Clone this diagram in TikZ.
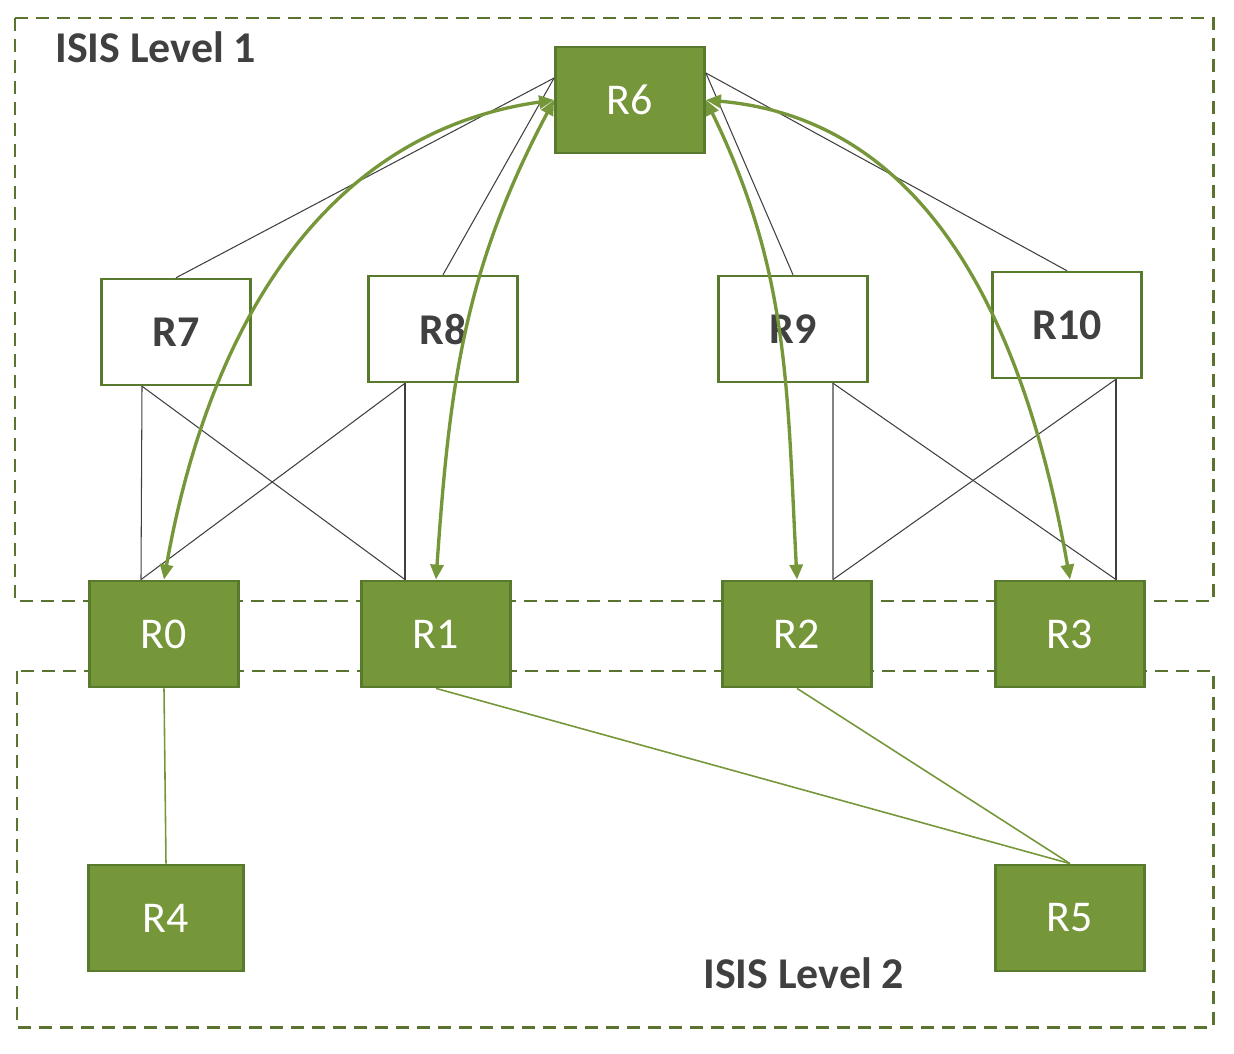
\documentclass[tikz,border=0pt]{standalone}
\usepackage{fontspec}
\setmainfont{Carlito}
\usepackage{tikz}
\usetikzlibrary{arrows.meta,positioning}
\definecolor{rtrgreen}{HTML}{76963A}
\definecolor{rtredge}{HTML}{587A2C}
\definecolor{dashgreen}{HTML}{5A7430}
\definecolor{txtgray}{HTML}{404040}

\begin{document}
\begin{tikzpicture}[>={Triangle[length=0.3cm,width=0.26cm]},
  grnbox/.style={draw=rtredge, fill=rtrgreen, line width=1.6pt, minimum width=2.98cm,
                 minimum height=2.12cm, text=white, font=\fontsize{25}{30}\selectfont},
  whtbox/.style={draw=rtredge, fill=white, line width=1.4pt, minimum width=2.98cm,
                 minimum height=2.12cm, text=txtgray, font=\fontsize{25}{30}\selectfont\bfseries},
  area/.style={draw=dashgreen, line width=1.7pt, dash pattern=on 0.26cm off 0.16cm},
  title/.style={text=txtgray, font=\fontsize{25}{30}\selectfont\bfseries,
                anchor=base west, inner sep=0pt},
  wire/.style={draw=txtgray, line width=0.6pt},
  l2wire/.style={draw=rtrgreen, line width=0.9pt},
  flow/.style={<->, draw=rtrgreen, line width=1.9pt}]
  \useasboundingbox (0,0) rectangle (24.68,-21.08);
  % areas
  \draw[area] (0.30,-0.36) rectangle (24.26,-12.02);
  \draw[area] (0.34,-13.42) rectangle (24.26,-20.54);
  \node[title] (t1) at (1.10,-1.26) {ISIS Level 1};
  \node[title] (t2) at (14.06,-19.76) {ISIS Level 2};
  % level 1 routers
  \node[grnbox] (R6)  at (12.60,-2.00) {R6};
  \node[whtbox] (R7)  at (3.52,-6.64)  {R7};
  \node[whtbox] (R8)  at (8.86,-6.58)  {R8};
  \node[whtbox] (R9)  at (15.86,-6.58) {R9};
  \node[whtbox] (R10) at (21.34,-6.50) {R10};
  % level 1/2 routers
  \foreach \name/\x in {R0/3.28, R1/8.72, R2/15.94, R3/21.40}
    \node[grnbox] (\name) at (\x,-12.68) {\name};
  % level 2 routers
  \node[grnbox, minimum width=3.1cm] (R4) at (3.32,-18.36) {R4};
  \node[grnbox] (R5) at (21.40,-18.36) {R5};
  % links to R6
  \draw[wire] ([yshift=0.44cm]R6.west) -- (R7.north);
  \draw[wire] ([yshift=0.44cm]R6.west) -- (R8.north);
  \draw[wire] ([yshift=0.54cm]R6.east) -- (R9.north);
  \draw[wire] ([yshift=0.54cm]R6.east) -- (R10.north);
  % links down to R0..R3
  \draw[wire] ([xshift=-0.68cm]R7.south) -- ([xshift=-0.46cm]R0.north);
  \draw[wire] ([xshift=-0.68cm]R7.south) -- ([xshift=-0.62cm]R1.north);
  \draw[wire] ([xshift=-0.76cm]R8.south) -- ([xshift=-0.46cm]R0.north);
  \draw[wire] ([xshift=-0.76cm]R8.south) -- ([xshift=-0.62cm]R1.north);
  \draw[wire] ([xshift=0.80cm]R9.south)  -- ([xshift=0.72cm]R2.north);
  \draw[wire] ([xshift=0.80cm]R9.south)  -- ([xshift=0.92cm]R3.north);
  \draw[wire] ([xshift=0.98cm]R10.south) -- ([xshift=0.72cm]R2.north);
  \draw[wire] ([xshift=0.98cm]R10.south) -- ([xshift=0.92cm]R3.north);
  % level 2 links
  \draw[l2wire] (R0.south) -- (R4.north);
  \draw[l2wire] (R1.south) -- (R5.north);
  \draw[l2wire] (R2.south) -- (R5.north);
  % adjacencies
  \draw[flow] (R0.north) to[out=80, in=188] (R6.west);
  \draw[flow] (R1.north) to[out=86, in=242] (R6.west);
  \draw[flow] (R2.north) to[out=93, in=296] (R6.east);
  \draw[flow] (R3.north) to[out=100, in=355] (R6.east);
\end{tikzpicture}
\end{document}
